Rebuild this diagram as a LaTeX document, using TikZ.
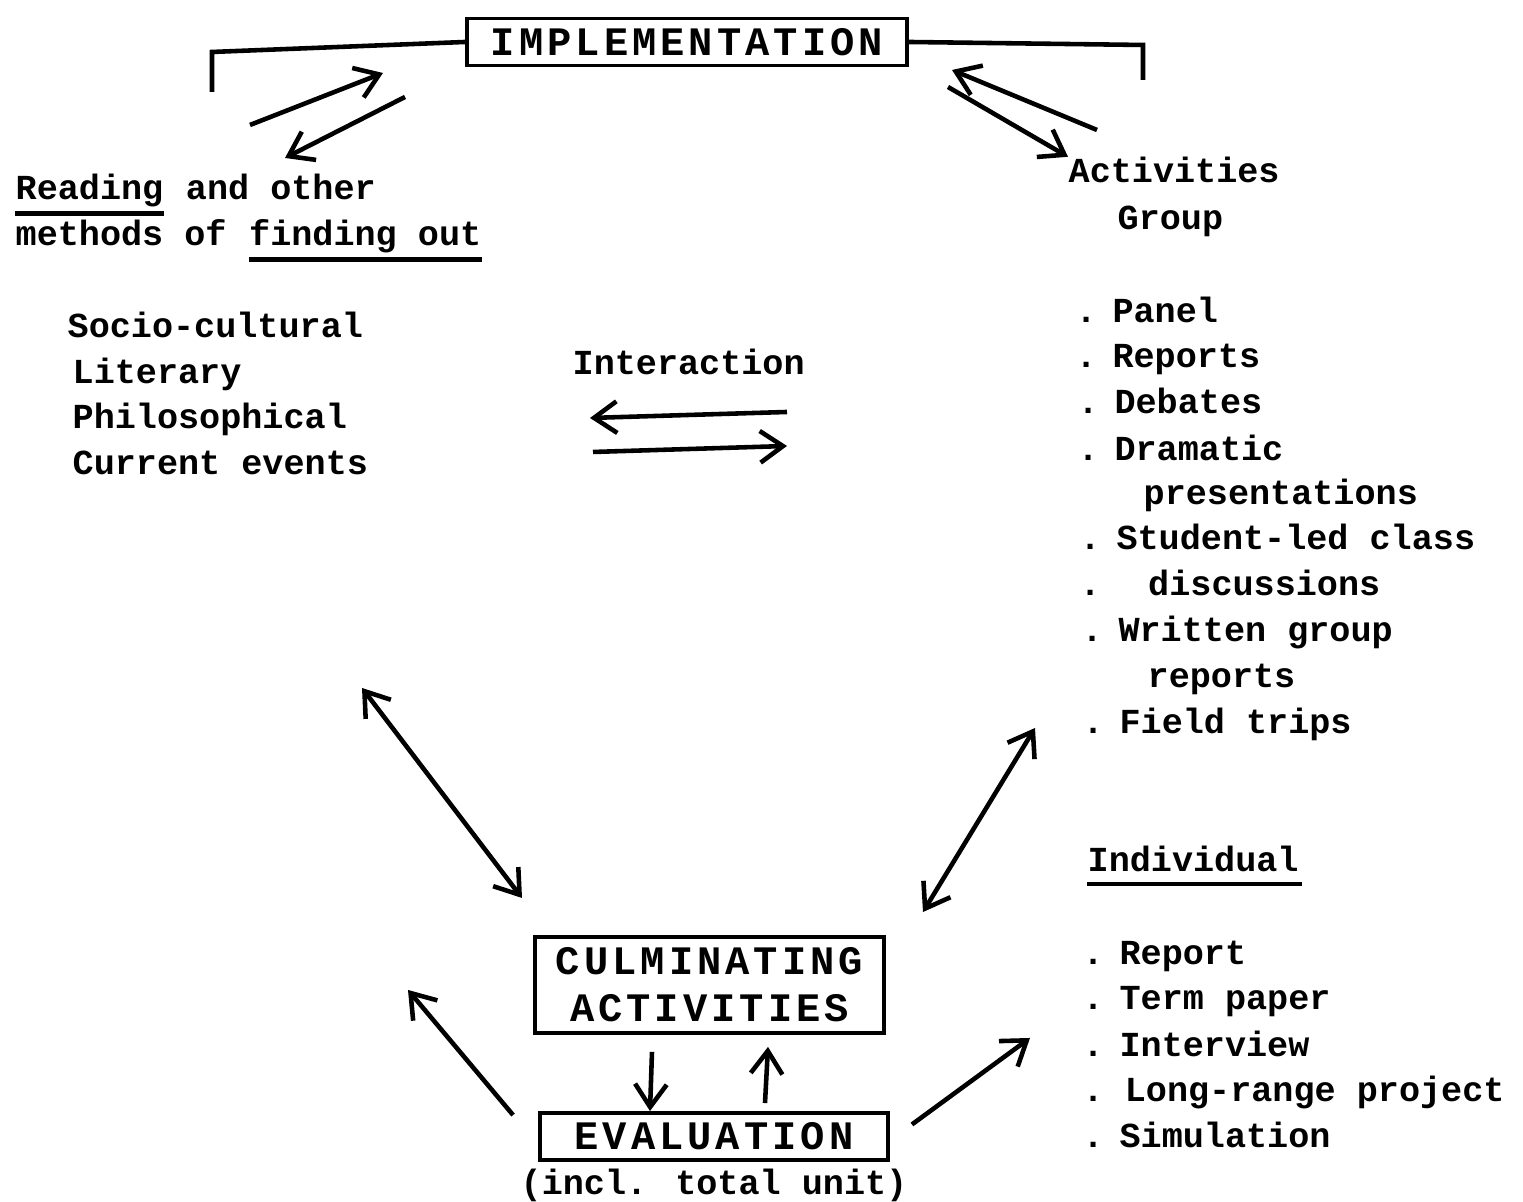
\documentclass[tikz,border=0pt]{standalone}
\usepackage{fontspec}
\usepackage{tikz}
\usetikzlibrary{arrows.meta,positioning}
\newfontfamily\twmono{Liberation Mono}
\newfontfamily\twcapsmono[LetterSpace=10]{Liberation Mono}
\newcommand\twfont{\twmono\bfseries\fontsize{10pt}{13.3pt}\selectfont}
\newcommand\twcapsfont{\twcapsmono\bfseries\fontsize{11.5pt}{13.3pt}\selectfont}
\newcommand\bul{.\hspace{0.45em}}

\begin{document}
\begin{tikzpicture}[>={Straight Barb[length=6.5pt,width=9pt]},
  txt/.style={font=\twfont, inner sep=0pt, anchor=base west},
  capbox/.style={draw, line width=1.1pt, font=\twcapsfont, align=center, inner sep=2pt},
  arr/.style={line width=1.3pt},
  uline/.style={line width=1.2pt}]
\useasboundingbox (0,0) rectangle (15.23,12.02);

% top
\node[capbox, minimum width=4.4cm, minimum height=0.47cm] (impl) at (6.87,11.60) {IMPLEMENTATION};
\coordinate (lbtop) at (2.12,11.50) ; \coordinate (lbend) at (2.12,11.10) ;
\coordinate (rbtop) at (11.43,11.57) ; \coordinate (rbend) at (11.43,11.22) ;
\draw[arr] (impl.west) -- (lbtop) -- (lbend) ;
\draw[arr] (impl.east) -- (rbtop) -- (rbend) ;

% reading side
\node[txt] (reading) at (0.15,10.02) {Reading};
\node[txt, base right=0.212cm of reading] (other) {and other};
\node[txt] (methods) at (0.15,9.56) {methods of};
\node[txt, base right=0.212cm of methods] (findout) {finding out};
\draw[uline] ([yshift=-1.5pt]reading.south west) -- ([yshift=-1.5pt]reading.south east) ;
\draw[uline] ([yshift=-1.5pt]findout.south west) -- ([yshift=-1.5pt]findout.south east) ;
\node[txt] (socio) at (0.67,8.64) {Socio-cultural};
\node[txt] (liter) at (0.72,8.18) {Literary};
\node[txt] (philo) at (0.72,7.73) {Philosophical};
\node[txt] (curr) at (0.72,7.27) {Current events};

\coordinate (tla) at (2.50,10.77) ; \coordinate (tlb) at (3.83,11.29) ;
\coordinate (tlc) at (4.05,11.05) ; \coordinate (tld) at (2.85,10.44) ;
\draw[arr,->] (tla) -- (tlb) ;
\draw[arr,->] (tlc) -- (tld) ;

% interaction
\node[txt] (inter) at (5.72,8.27) {Interaction};
\coordinate (iaa) at (7.87,7.90) ; \coordinate (iab) at (5.90,7.84) ;
\coordinate (iba) at (5.93,7.50) ; \coordinate (ibb) at (7.87,7.56) ;
\draw[arr,->] (iaa) -- (iab) ;
\draw[arr,->] (iba) -- (ibb) ;

% activities side
\node[txt] (activ) at (10.68,10.19) {Activities};
\node[txt] (group) at (11.17,9.72) {Group};
\node[txt] (panel) at (10.75,8.79) {\bul Panel};
\node[txt] (reports) at (10.75,8.34) {\bul Reports};
\node[txt] (debates) at (10.77,7.88) {\bul Debates};
\node[txt] (dramatic) at (10.77,7.41) {\bul Dramatic};
\node[txt] (present) at (11.43,6.97) {presentations};
\node[txt] (student) at (10.79,6.52) {\bul Student-led class};
\node[txt] (discuss) at (10.79,6.06) {.\hspace{1.35em}discussions};
\node[txt] (written) at (10.81,5.60) {\bul Written group};
\node[txt] (wreports) at (11.47,5.14) {reports};
\node[txt] (field) at (10.82,4.68) {\bul Field trips};

\coordinate (tra) at (10.97,10.72) ; \coordinate (trb) at (9.52,11.32) ;
\coordinate (trc) at (9.48,11.15) ;
\draw[arr,->] (tra) -- (trb) ;
\draw[arr,->] (trc) -- (activ.north west) ;

\node[txt] (indiv) at (10.87,3.30) {Individual};
\draw[uline] ([yshift=-0.12cm]indiv.base west) -- ([xshift=0.03cm,yshift=-0.12cm]indiv.base east) ;
\node[txt] (report) at (10.82,2.37) {\bul Report};
\node[txt] (term) at (10.82,1.92) {\bul Term paper};
\node[txt] (interv) at (10.82,1.45) {\bul Interview};
\node[txt] (longr) at (10.82,1.00) {.\hspace{0.6em}Long-range project};
\node[txt] (simul) at (10.82,0.54) {\bul Simulation};

% bottom
\node[capbox, minimum width=3.49cm, minimum height=0.96cm] (culm) at (7.095,2.17) {CULMINATING\\ACTIVITIES};
\node[capbox, minimum width=3.48cm, minimum height=0.47cm] (eval) at (7.14,0.655) {EVALUATION};
\node[txt, below=0.06cm of eval] (incl) {(incl. total unit)};

\draw[arr,->] ([shift={(-0.575,-0.17)}]culm.south) -- ([shift={(-0.64,0)}]eval.north) ;
\draw[arr,->] ([shift={(0.51,0.08)}]eval.north) -- ([shift={(0.585,-0.12)}]culm.south) ;

\coordinate (lda) at (3.62,5.14) ; \coordinate (ldb) at (5.22,3.04) ;
\coordinate (rda) at (10.35,4.74) ; \coordinate (rdb) at (9.23,2.90) ;
\draw[arr,<->] (lda) -- (ldb) ;
\draw[arr,<->] (rda) -- (rdb) ;

\coordinate (evl) at (4.08,2.12) ; \coordinate (evr) at (10.30,1.64) ;
\draw[arr,->] ([shift={(-0.25,-0.04)}]eval.north west) -- (evl) ;
\draw[arr,->] ([shift={(0.22,0.12)}]eval.east) -- (evr) ;
\end{tikzpicture}
\end{document}
